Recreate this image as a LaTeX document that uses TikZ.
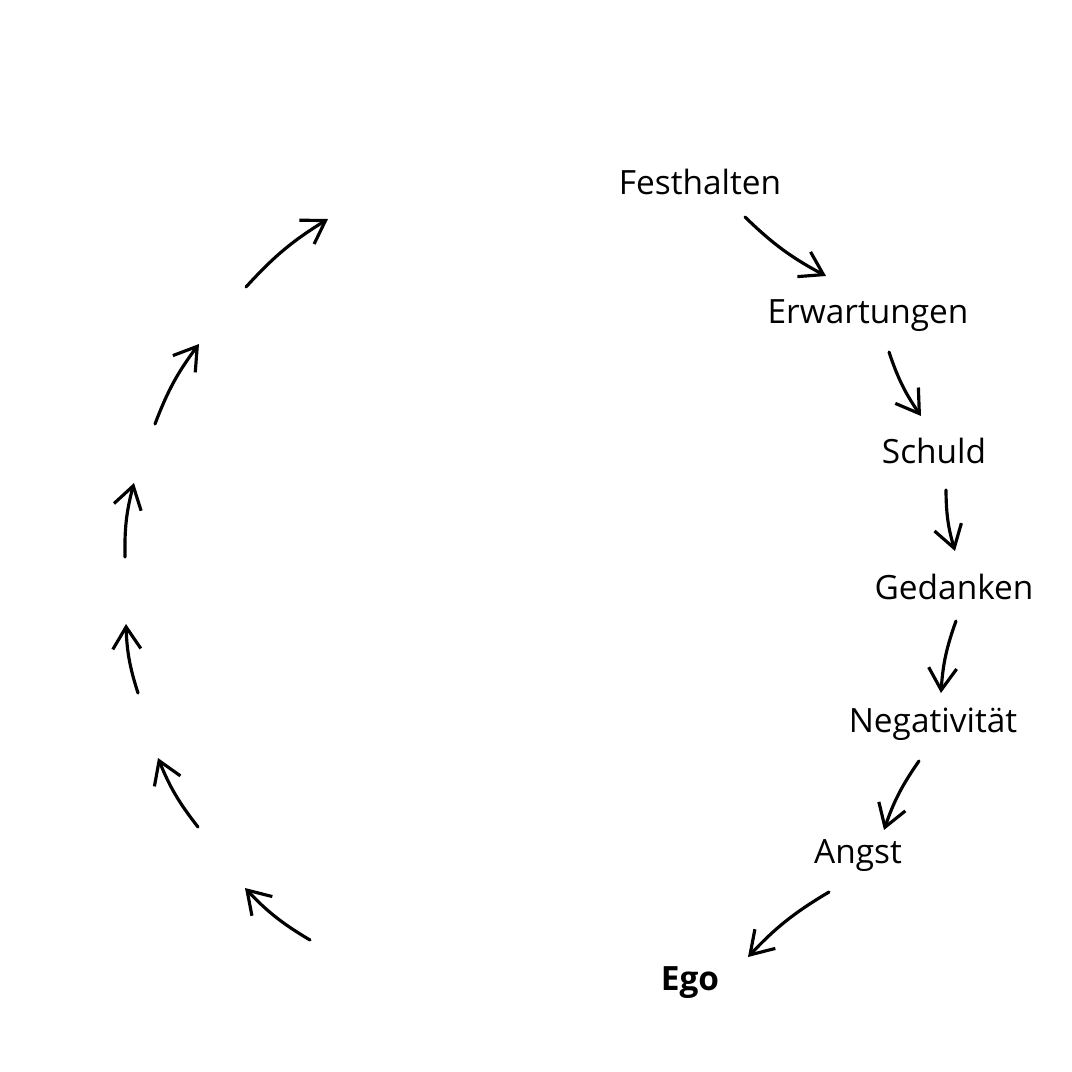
\documentclass[tikz,border=0pt]{standalone}
\usepackage{fontspec}
\setmainfont{Open Sans}
\usetikzlibrary{arrows.meta}
\begin{document}
\begin{tikzpicture}[x=0.01cm, y=-0.01cm,
        word/.style={font=\fontsize{9.5pt}{11pt}\selectfont, inner sep=0pt},
        arrow/.style={-{Straight Barb[length=2.2mm, width=2.8mm]}, line width=0.9pt, line cap=round}
    ]
    \useasboundingbox[fill=white] (0,0) rectangle (1072,1072);
    % Words
    \node[word] (fest) at (700,182) {Festhalten};
    \node[word] (erw) at (868,316) {Erwartungen};
    \node[word] (schuld) at (934,451) {Schuld};
    \node[word] (ged) at (954,587) {Gedanken};
    \node[word] (neg) at (933,724) {Negativität};
    \node[word] (angst) at (858,856) {Angst};
    \node[word, font=\fontsize{9.5pt}{11pt}\selectfont\bfseries] (ego) at (690,983) {Ego};

    % Right arrow ends
    \foreach \n/\ax/\ay/\bx/\by in {r1/745/217/826/276, r2/889/352/921/416, r3/946/490/955/551,
        r4/956/621/941/693, r5/919/761/884/830, r6/829/892/748/957,
        l1/310/940/245/888, l2/198/827/158/758, l3/138/693/126/624,
        l4/125/557/134/483, l5/155/424/199/344, l6/246/287/328/219} {
        \coordinate (\n a) at (\ax,\ay);
        \coordinate (\n b) at (\bx,\by);
    }

    % Arrows
    \foreach \n in {r1,r2,r3,r4,r5,r6} {
        \draw[arrow] (\n a) to[bend right=8] (\n b);
    }
    \foreach \n in {l1,l2,l3,l4,l5,l6} {
        \draw[arrow] (\n a) to[bend left=8] (\n b);
    }
\end{tikzpicture}
\end{document}
